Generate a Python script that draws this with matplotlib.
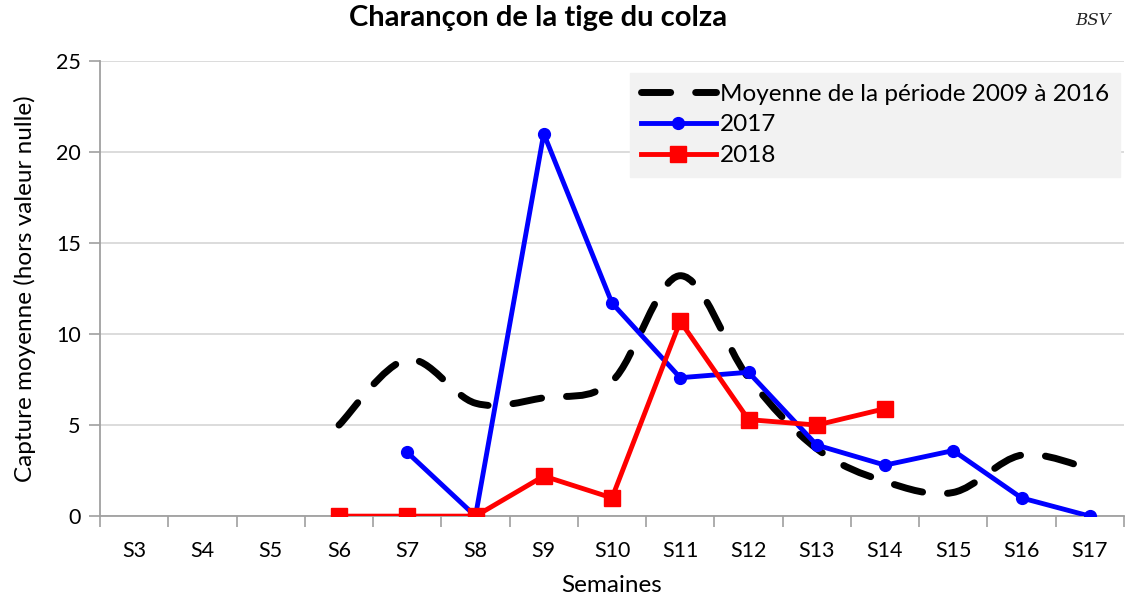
import matplotlib
matplotlib.use("Agg")
import matplotlib.pyplot as plt
from matplotlib.path import Path
from matplotlib.patches import PathPatch
from matplotlib.lines import Line2D
import numpy as np

weeks = ["S3", "S4", "S5", "S6", "S7", "S8", "S9", "S10", "S11", "S12", "S13", "S14", "S15", "S16", "S17"]

# moyenne 2009-2016 (S6 -> S17)
mean_weeks = ["S6", "S7", "S8", "S9", "S10", "S11", "S12", "S13", "S14", "S15", "S16", "S17"]
mean_vals = [5.0, 8.6, 6.2, 6.5, 7.4, 13.2, 7.6, 3.7, 1.9, 1.3, 3.35, 2.6]

weeks_2017 = ["S7", "S8", "S9", "S10", "S11", "S12", "S13", "S14", "S15", "S16", "S17"]
vals_2017 = [3.5, 0.0, 21.0, 11.7, 7.6, 7.9, 3.9, 2.8, 3.6, 1.0, 0.0]

weeks_2018 = ["S6", "S7", "S8", "S9", "S10", "S11", "S12", "S13", "S14"]
vals_2018 = [0.0, 0.0, 0.0, 2.2, 1.0, 10.7, 5.3, 5.0, 5.9]

plt.rcParams['font.family'] = ['Lato', 'DejaVu Sans']


def smooth_path(xs, ys):
    # courbe lissee facon tableur (bezier cubique)
    pts = np.column_stack([xs, ys])
    n = len(pts)
    verts = [pts[0]]
    codes = [Path.MOVETO]
    for i in range(n - 1):
        p0 = pts[max(i - 1, 0)]
        p1 = pts[i]
        p2 = pts[i + 1]
        p3 = pts[min(i + 2, n - 1)]
        c1 = p1 + (p2 - p0) / 6.0
        c2 = p2 - (p3 - p1) / 6.0
        verts += [c1, c2, p2]
        codes += [Path.CURVE4] * 3
    return Path(verts, codes)


fig = plt.figure(figsize=(11.25, 5.96), dpi=100)
ax = fig.add_axes([0.089, 0.134, 0.91, 0.764])

idx = {w: i for i, w in enumerate(weeks)}
mx = [idx[w] for w in mean_weeks]
x17 = [idx[w] for w in weeks_2017]
x18 = [idx[w] for w in weeks_2018]

dash = (0, (4.2, 3.6))
patch = PathPatch(smooth_path(mx, mean_vals), fill=False, edgecolor='black',
                  linewidth=5.0, linestyle=dash, capstyle='round', zorder=3)
ax.add_patch(patch)

ax.plot(x17, vals_2017, color='#0000ff', linewidth=3.5, marker='o', markersize=8.5,
        zorder=4, solid_joinstyle='round')
ax.plot(x18, vals_2018, color='#ff0000', linewidth=3.5, marker='s', markersize=11,
        zorder=5, solid_joinstyle='round')

ax.set_xlim(-0.5, len(weeks) - 0.5)
ax.set_ylim(0, 25)
ax.set_yticks([0, 5, 10, 15, 20, 25])
ax.set_xticks(range(len(weeks)))
ax.set_xticklabels(weeks)
ax.set_xticks(np.arange(-0.5, len(weeks), 1.0), minor=True)
ax.tick_params(axis='x', which='major', length=0, labelsize=15.5, pad=18)
ax.tick_params(axis='x', which='minor', length=8, color='#a0a0a0', width=1.2, direction='out')
ax.tick_params(axis='y', length=8, color='#a0a0a0', width=1.2, labelsize=15.5, pad=6)

ax.grid(axis='y', color='#d9d9d9', linewidth=1.3)
ax.set_axisbelow(True)
for s in ['top', 'right']:
    ax.spines[s].set_visible(False)
for s in ['left', 'bottom']:
    ax.spines[s].set_color('#a0a0a0')
    ax.spines[s].set_linewidth(1.3)

ax.set_xlabel("Semaines", fontsize=17.5, labelpad=10)
ax.set_ylabel("Capture moyenne (hors valeur nulle)", fontsize=17.5, labelpad=14)
fig.suptitle("Charançon de la tige du colza", fontsize=21, fontweight='bold',
             x=0.478, y=0.992)

handles = [
    Line2D([], [], color='black', linewidth=5.0, linestyle=dash, dash_capstyle='round'),
    Line2D([], [], color='#0000ff', linewidth=3.5, marker='o', markersize=8.5),
    Line2D([], [], color='#ff0000', linewidth=3.5, marker='s', markersize=11),
]
labels = ["Moyenne de la période 2009 à 2016", "2017", "2018"]
leg = ax.legend(handles, labels, loc='upper right', bbox_to_anchor=(0.996, 0.974),
                frameon=True, fancybox=False, fontsize=17.5, handlelength=3.1,
                handletextpad=0.15, labelspacing=0.4, borderpad=0.45, borderaxespad=0)
leg.get_frame().set_facecolor('#f2f2f2')
leg.get_frame().set_edgecolor('#f2f2f2')
leg.get_frame().set_alpha(1.0)
leg.set_zorder(2)

fig.text(0.972, 0.965, "BSV", fontsize=12, style='italic', color='#222222',
         ha='center', va='center', family='DejaVu Serif')

fig.savefig("out.png", dpi=100)
